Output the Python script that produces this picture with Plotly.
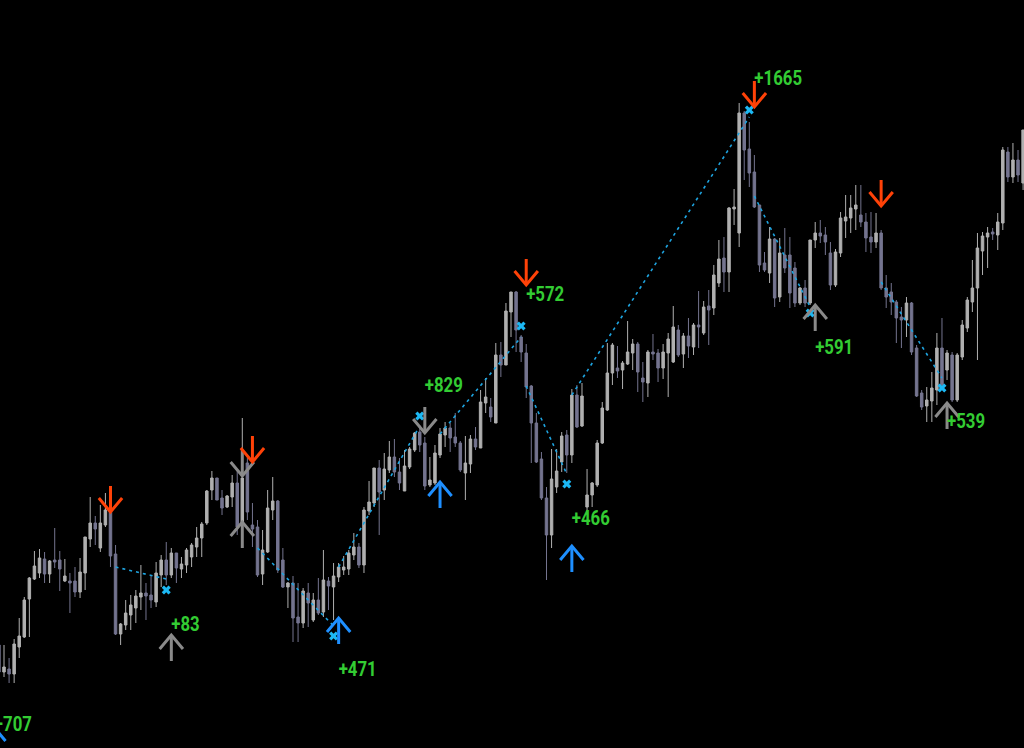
import plotly.graph_objects as go

# ---------------- candle data (index -1 .. 201) ----------------
first_index = -1
open_ = [355,328,331,326,353,363,401,421,427,441,
         426,440,440,419,419,419,408,427,461,477,
         452,475,490,446,366,375,385,392,403,407,
         405,398,425,440,425,447,431,435,443,453,
         462,477,510,522,502,493,503,517,478,537,
         475,473,426,448,490,499,440,413,417,383,
         377,407,380,400,388,419,413,423,430,431,
         445,453,435,489,497,532,510,530,543,528,
         509,533,550,568,557,515,517,545,565,572,
         563,557,527,536,561,552,597,593,577,645,
         635,688,708,663,647,614,577,541,502,465,
         513,538,565,545,605,574,493,505,515,557,
         590,627,632,630,636,647,656,622,617,648,
         647,632,647,638,670,646,664,653,675,667,
         694,692,717,742,728,791,767,887,851,828,
         795,737,727,761,703,745,745,732,697,712,
         697,760,767,765,747,715,747,779,782,791,
         785,778,763,758,767,712,708,698,683,680,
         697,652,607,594,599,610,652,630,645,600,
         643,672,698,712,749,763,768,765,777,848,
         823,840,817]
high = [360,355,342,361,382,403,423,449,451,448,
        440,472,449,441,427,433,442,463,503,484,
        495,507,492,455,377,400,405,410,435,417,
        425,438,445,458,452,447,443,452,457,473,
        478,510,529,522,510,505,525,530,582,545,
        497,480,470,510,523,500,452,418,424,417,
        412,417,407,422,450,423,437,437,444,450,
        467,457,493,519,532,540,547,559,561,542,
        550,553,568,575,563,543,555,572,578,577,
        587,559,564,565,573,610,622,602,657,658,
        697,708,709,665,656,615,587,548,513,551,
        551,568,570,611,615,617,531,518,560,598,
        657,657,654,639,679,661,658,638,650,666,
        651,656,667,694,675,667,682,677,709,699,
        710,735,760,763,793,811,897,889,878,845,
        795,748,773,762,762,772,763,738,713,720,
        760,778,780,773,758,751,788,805,805,815,
        815,787,788,787,770,725,717,700,693,703,
        698,655,610,613,628,667,682,650,648,647,
        680,703,740,767,768,773,772,787,853,853,
        857,850,870]
low = [322,323,317,317,342,362,363,420,422,417,
       417,432,409,418,387,403,402,410,453,455,
       448,473,433,365,355,370,370,377,390,380,
       392,393,413,415,422,417,422,427,433,443,
       443,475,500,500,485,492,493,465,470,480,
       453,423,415,447,480,427,412,392,358,358,
       372,373,378,385,383,390,380,418,425,425,
       440,432,427,485,493,465,500,527,523,510,
       509,531,548,548,510,513,515,542,553,548,
       553,528,500,527,550,552,587,578,577,623,
       635,663,648,638,602,537,537,500,420,452,
       507,528,527,537,572,573,488,493,513,556,
       589,615,622,611,635,630,608,598,603,640,
       618,621,603,637,643,632,642,645,652,665,
       655,685,713,708,708,775,753,820,813,792,
       728,728,717,693,698,727,692,693,695,693,
       695,752,757,745,710,713,743,762,767,770,
       773,748,747,752,710,692,685,657,652,663,
       645,603,590,578,578,595,613,620,598,598,
       640,668,688,640,725,732,760,750,770,818,
       817,818,810]
close = [328,333,326,356,364,400,422,434,442,426,
         439,438,431,424,417,408,428,463,477,471,
         477,490,444,366,376,387,395,404,407,404,
         400,427,440,425,447,432,436,450,455,462,
         476,509,522,500,492,504,517,473,522,488,
         471,425,450,492,499,430,413,417,382,377,
         409,397,400,387,420,414,424,433,433,447,
         453,435,490,498,532,508,531,543,528,517,
         534,551,567,555,514,520,547,566,572,562,
         557,530,537,561,553,598,603,583,645,635,
         689,708,670,648,613,577,538,502,465,521,
         529,564,545,605,573,604,505,517,557,592,
         627,655,629,637,648,656,628,618,648,646,
         632,648,661,673,645,664,654,675,673,693,
         690,725,741,728,792,793,887,850,827,793,
         735,730,761,702,747,732,707,697,712,697,
         760,767,764,758,715,748,782,783,792,795,
         778,762,758,767,712,703,698,682,680,697,
         648,604,593,600,612,652,615,647,600,645,
         675,700,712,752,764,767,766,778,850,823,
         840,825,870]

assert len(open_) == len(high) == len(low) == len(close)
candle_index = list(range(first_index, first_index + len(open_)))

# ---------------- trades (entry -> exit) ----------------
entry_index = [22, 50, 66, 86, 103, 112, 148, 173]
entry_price = [433, 452, 433, 566, 614, 605, 804, 718]
exit_index = [32, 65, 82, 102, 111, 147, 159, 185]
exit_line_price = [421, 374, 574, 663, 526, 883, 693, 622]
exit_mark_price = [410, 364, 584, 674, 516, 890, 687, 612]

# ---------------- signal arrows ----------------
sell_index = [21, 49, 103, 148, 173]
sell_tip = [488, 538, 715, 893, 794]
buy_index = [-2, 66, 86, 112]
buy_tip = [273, 382, 518, 454]
close_down_index = [47, 83]
close_down_tip = [524, 567]
close_up_index = [33, 47, 160, 186]
close_up_tip = [365, 478, 695, 597]

# ---------------- profit labels ----------------
label_text = ["+707", "+83", "+471", "+829", "+572", "+466", "+1665", "+591", "+539"]
label_index = [-2, 33, 66, 83, 103, 112, 148, 160, 186]
label_price = [274, 374, 329, 613, 704, 480, 920, 651, 577]

INC = "#b0b0b0"
DEC = "#74748f"
RED = "#ff4208"
BLUE = "#1e8fff"
GREY = "#8a8a8a"
CYAN_LINE = "#1ea4e0"
CYAN_MARK = "#1cb8f4"
GREEN = "#33cc33"

fig = go.Figure()
fig.add_trace(go.Candlestick(
    x=candle_index, open=open_, high=high, low=low, close=close,
    increasing=dict(line=dict(color=INC, width=1), fillcolor=INC),
    decreasing=dict(line=dict(color=DEC, width=1), fillcolor=DEC),
    whiskerwidth=0, hoverinfo="skip", showlegend=False))

tx, ty = [], []
for a, pa, b, pb in zip(entry_index, entry_price, exit_index, exit_line_price):
    tx += [a, b, None]
    ty += [pa, pb, None]
fig.add_trace(go.Scatter(x=tx, y=ty, mode="lines", hoverinfo="skip",
                         line=dict(color=CYAN_LINE, width=1.6, dash="3px,4px")))
fig.add_trace(go.Scatter(x=exit_index, y=exit_mark_price, mode="markers", hoverinfo="skip",
                         marker=dict(symbol="x", size=8, color=CYAN_MARK, line=dict(width=0))))

SHAFT = 26      # arrow length in price units
HEAD_H = 14     # head depth
HEAD_W = 2.3    # head half width in candle units


def arrow_xy(ids, tips, pointing_down):
    s = 1 if pointing_down else -1
    xs, ys = [], []
    for k, t in zip(ids, tips):
        xs += [k, k, None, k - HEAD_W, k, k + HEAD_W, None]
        ys += [t + s * SHAFT, t, None, t + s * HEAD_H, t, t + s * HEAD_H, None]
    return xs, ys


for ids, tips, down, col in [
    (close_down_index, close_down_tip, True, GREY),
    (close_up_index, close_up_tip, False, GREY),
    (sell_index, sell_tip, True, RED),
    (buy_index, buy_tip, False, BLUE),
]:
    ax, ay = arrow_xy(ids, tips, down)
    fig.add_trace(go.Scatter(x=ax, y=ay, mode="lines", hoverinfo="skip",
                             line=dict(color=col, width=3)))

fig.add_trace(go.Scatter(
    x=label_index, y=label_price, mode="text", text=label_text,
    textposition="middle right", hoverinfo="skip",
    textfont=dict(family="Roboto, Liberation Sans, sans-serif",
                  size=21, color=GREEN, weight="bold")))

fig.update_layout(
    width=1024, height=748,
    margin=dict(l=0, r=0, t=0, b=0),
    paper_bgcolor="black", plot_bgcolor="black",
    showlegend=False,
    xaxis=dict(range=[-0.79, 201.18], visible=False, rangeslider=dict(visible=False), fixedrange=True),
    yaxis=dict(range=[252, 1000], visible=False, fixedrange=True),
)

post = """
document.body.style.margin = '0';
document.querySelectorAll('g.textpoint text').forEach(function (el) {
  el.style.transformBox = 'fill-box';
  el.style.transformOrigin = '0% 50%';
  el.style.transform = 'scaleX(0.8)';
});
"""

fig.write_html("out.html", config={"displayModeBar": False}, post_script=post)
